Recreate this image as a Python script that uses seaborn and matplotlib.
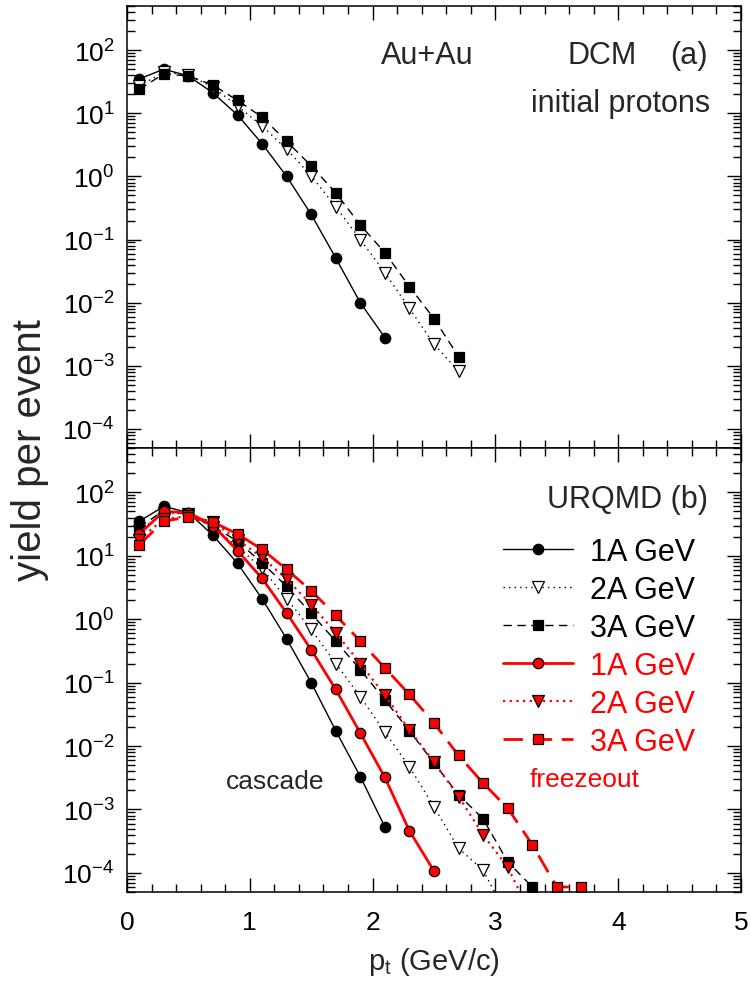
import matplotlib
matplotlib.use("Agg")
import matplotlib.pyplot as plt
import numpy as np
import pandas as pd
import seaborn as sns
from matplotlib.ticker import (LogLocator, MultipleLocator, NullFormatter,
                               FuncFormatter, FixedLocator)

# ---------------- data ----------------
# (a) DCM, initial protons
dcm_pt_1A = [0.1, 0.3, 0.5, 0.7, 0.9, 1.1, 1.3, 1.5, 1.7, 1.9, 2.1]
dcm_1A = [35, 50, 39, 21, 9.4, 3.3, 1.0, 0.25, 0.051, 0.010, 0.0028]
dcm_pt_23A = [0.1, 0.3, 0.5, 0.7, 0.9, 1.1, 1.3, 1.5, 1.7, 1.9, 2.1, 2.3, 2.5, 2.7]
dcm_2A = [27, 45, 40, 26, 13, 6.3, 2.7, 1.02, 0.33, 0.10, 0.030, 0.0081, 0.0022, 0.00082]
dcm_3A = [24, 42, 39, 28, 16, 8.7, 3.6, 1.47, 0.55, 0.17, 0.062, 0.018, 0.0056, 0.0014]

# (b) URQMD, cascade
casc_pt_1A = [0.1, 0.3, 0.5, 0.7, 0.9, 1.1, 1.3, 1.5, 1.7, 1.9, 2.1]
casc_1A = [35, 60, 48, 21, 7.6, 2.1, 0.49, 0.10, 0.0174, 0.0033, 0.00053]
casc_pt_2A = [0.1, 0.3, 0.5, 0.7, 0.9, 1.1, 1.3, 1.5, 1.7, 1.9, 2.1, 2.3, 2.5, 2.7, 2.9, 3.1]
casc_2A = [25, 48, 45, 28, 14, 6.3, 2.1, 0.69, 0.20, 0.06, 0.0166, 0.0047, 0.0011,
           0.000245, 0.00011, 0.00002]
casc_pt_3A = [0.1, 0.3, 0.5, 0.7, 0.9, 1.1, 1.3, 1.5, 1.7, 1.9, 2.1, 2.3, 2.5, 2.7, 2.9, 3.1, 3.3]
casc_3A = [28, 52, 45, 29, 17, 7.7, 3.3, 1.23, 0.45, 0.16, 0.053, 0.0174, 0.0054, 0.0017,
           0.00071, 0.00015, 0.00006]

# (b) URQMD, freezeout
frz_pt_1A = [0.1, 0.3, 0.5, 0.7, 0.9, 1.1, 1.3, 1.5, 1.7, 1.9, 2.1, 2.3, 2.5]
frz_1A = [22, 50, 48, 30, 12, 4.4, 1.25, 0.33, 0.078, 0.016, 0.0032, 0.00046, 0.000107]
frz_pt_2A = [0.1, 0.3, 0.5, 0.7, 0.9, 1.1, 1.3, 1.5, 1.7, 1.9, 2.1, 2.3, 2.5, 2.7, 2.9, 3.1, 3.3]
frz_2A = [18, 38, 42, 34, 18, 9.4, 4.3, 1.7, 0.61, 0.20, 0.063, 0.018, 0.0056, 0.0016,
          0.0004, 0.000123, 0.00002]
frz_pt_3A = [0.1, 0.3, 0.5, 0.7, 0.9, 1.1, 1.3, 1.5, 1.7, 1.9, 2.1, 2.3, 2.5, 2.7, 2.9, 3.1,
             3.3, 3.5, 3.7]
frz_3A = [15, 35, 41, 34, 22, 12.6, 6.1, 2.8, 1.15, 0.45, 0.17, 0.065, 0.023, 0.0071,
          0.0026, 0.00105, 0.00028, 0.00006, 0.00006]

energy_labels = ["1A GeV", "2A GeV", "3A GeV"]
x_tick_labels = ["0", "1", "2", "3", "4", "5"]
y_decades = [1e-4, 1e-3, 1e-2, 1e-1, 1e0, 1e1, 1e2]

# ---------------- style ----------------
sns.set_theme(style="ticks")
plt.rcParams["font.family"] = ["Liberation Sans", "DejaVu Sans"]
plt.rcParams["mathtext.default"] = "regular"
plt.rcParams["axes.linewidth"] = 1.1

RED = "#ff0000"
BLK = "#000000"
FS = 22

fig = plt.figure(figsize=(7.51, 9.87), dpi=100)
left, right = 127 / 751, 741 / 751
top_y, mid_y, bot_y = 1 - 7 / 987, 1 - 449 / 987, 1 - 893 / 987
ax_a = fig.add_axes([left, mid_y, right - left, top_y - mid_y])
ax_b = fig.add_axes([left, bot_y, right - left, mid_y - bot_y], sharex=ax_a)


def draw(ax, x, y, color, ls, marker, mfc, lw, ms, label):
    df = pd.DataFrame({"pt": x, "yield": y})
    sns.lineplot(data=df, x="pt", y="yield", ax=ax, color=color, linestyle=ls,
                 linewidth=lw, marker=marker, markersize=ms, markerfacecolor=mfc,
                 markeredgecolor=BLK, markeredgewidth=0.9, label=label,
                 legend=False)


# panel (a)
draw(ax_a, dcm_pt_1A, dcm_1A, BLK, "-", "o", BLK, 1.0, 7.5, energy_labels[0])
draw(ax_a, dcm_pt_23A, dcm_2A, BLK, (0, (1, 3)), "v", "white", 1.0, 8, energy_labels[1])
draw(ax_a, dcm_pt_23A, dcm_3A, BLK, (0, (6, 4)), "s", BLK, 1.0, 7.5, energy_labels[2])

# panel (b)
draw(ax_b, casc_pt_1A, casc_1A, BLK, "-", "o", BLK, 1.0, 7.5, energy_labels[0])
draw(ax_b, casc_pt_2A, casc_2A, BLK, (0, (1, 3)), "v", "white", 1.0, 8, energy_labels[1])
draw(ax_b, casc_pt_3A, casc_3A, BLK, (0, (6, 4)), "s", BLK, 1.0, 7.5, energy_labels[2])
draw(ax_b, frz_pt_1A, frz_1A, RED, "-", "o", RED, 2.0, 7.5, energy_labels[0])
draw(ax_b, frz_pt_2A, frz_2A, RED, (0, (1, 2)), "v", RED, 1.6, 8, energy_labels[1])
draw(ax_b, frz_pt_3A, frz_3A, RED, (0, (7, 3.5)), "s", RED, 2.0, 7.5, energy_labels[2])


def sci(v, pos):
    e = int(round(np.log10(v)))
    return r"$10^{%d}$" % e


for ax in (ax_a, ax_b):
    ax.set_yscale("log")
    ax.set_ylim(5e-5, 500)
    ax.set_xlim(0, 5)
    ax.yaxis.set_major_locator(FixedLocator(y_decades))
    ax.yaxis.set_minor_locator(LogLocator(base=10, subs=np.arange(2, 10), numticks=20))
    ax.yaxis.set_major_formatter(FuncFormatter(sci))
    ax.yaxis.set_minor_formatter(NullFormatter())
    ax.xaxis.set_major_locator(MultipleLocator(1))
    ax.xaxis.set_minor_locator(MultipleLocator(0.2))
    ax.tick_params(which="both", direction="in", top=True, right=True,
                   labelsize=19, width=1.0, colors=BLK)
    ax.tick_params(axis="y", pad=9)
    ax.tick_params(axis="x", pad=13)
    ax.tick_params(which="major", length=10)
    ax.tick_params(which="minor", length=6)
    ax.set_xlabel("")
    ax.set_ylabel("")
    for s in ax.spines.values():
        s.set_color(BLK)

ax_a.tick_params(labelbottom=False)
ax_b.set_xticks([0, 1, 2, 3, 4, 5])
ax_b.set_xticklabels(x_tick_labels)
ax_b.set_xlim(0, 5)

ax_b.set_xlabel(r"p$_t$ (GeV/c)", fontsize=21, labelpad=8)
fig.text(0.04, (bot_y + top_y) / 2, "yield per event", rotation=90,
         fontsize=29, ha="center", va="center")

# panel annotations
tf = ax_a.transAxes
ax_a.text(0.565, 0.889, "Au+Au", transform=tf, fontsize=FS, ha="right", va="center")
ax_a.text(0.831, 0.889, "DCM", transform=tf, fontsize=FS, ha="right", va="center")
ax_a.text(0.945, 0.889, "(a)", transform=tf, fontsize=FS, ha="right", va="center")
ax_a.text(0.950, 0.781, "initial protons", transform=tf, fontsize=FS, ha="right", va="center")

tb = ax_b.transAxes
ax_b.text(0.946, 0.885, "URQMD (b)", transform=tb, fontsize=FS, ha="right", va="center")
ax_b.text(0.322, 0.25, "cascade", transform=tb, fontsize=19, ha="right", va="center")
ax_b.text(0.746, 0.255, "freezeout", transform=tb, fontsize=19, ha="center",
          va="center", color=RED)

handles = ax_b.get_lines()[:6]
leg = ax_b.legend(handles=handles, labels=energy_labels * 2, loc="upper left",
                  bbox_to_anchor=(0.612, 0.80), frameon=False, fontsize=FS,
                  handlelength=2.3, handletextpad=0.55, labelspacing=0.26,
                  borderaxespad=0, borderpad=0,
                  labelcolor=[BLK, BLK, BLK, RED, RED, RED])

fig.savefig("out.png", dpi=100)
